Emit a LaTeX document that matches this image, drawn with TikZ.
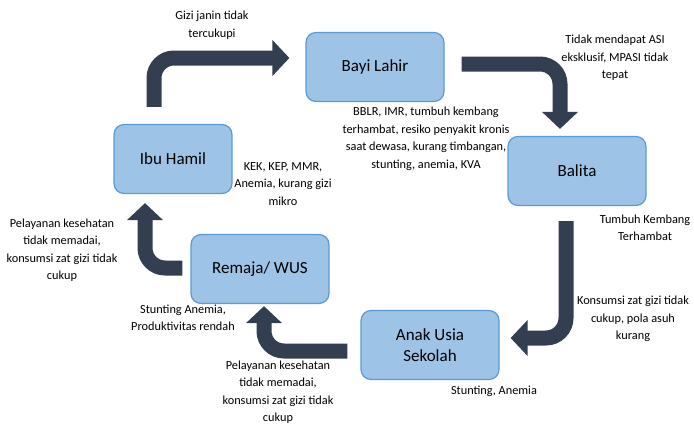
\documentclass[tikz,border=0pt]{standalone}
\usepackage{fontspec}
\setmainfont{Carlito}
\usetikzlibrary{arrows.meta}
\usetikzlibrary{positioning}
\definecolor{boxfill}{HTML}{9DC3E6}
\definecolor{boxline}{HTML}{5B9BD5}
\definecolor{panah}{HTML}{333F50}

\begin{document}
\begin{tikzpicture}[x=1pt,y=-1pt]
	\tikzset{vertex/.style = {shape=rectangle, rounded corners=10pt, draw=boxline, line width=1.2pt, fill=boxfill, minimum width=138pt, minimum height=69pt, align=center, font=\fontsize{17}{21}\selectfont}}
	\tikzset{txt/.style = {align=center, inner sep=0pt, font=\fontsize{12.3}{17.5}\selectfont}}
	\tikzset{panahbesar/.style = {draw=panah, line width=15pt, rounded corners=20pt, -{Triangle[width=35pt,length=17pt]}}}
	\useasboundingbox (0,0) rectangle (694,424);
	
	\node[vertex] (bayi) at (375,67) {Bayi Lahir};
	\node[vertex, minimum width=118pt] (ibu) at (173,159) {Ibu Hamil};
	\node[vertex] (balita) at (577,171) {Balita};
	\node[vertex] (remaja) at (260,269) {Remaja/ WUS};
	\node[vertex] (anak) at (430,345) {Anak Usia\\Sekolah};
	
	\draw[panahbesar] ([xshift=-19pt,yshift=17pt]ibu.north) |- ([xshift=-16pt,yshift=9pt]bayi.west);
	\draw[panahbesar] ([xshift=17pt,yshift=3pt]bayi.east) -| ([xshift=-17pt,yshift=7pt]balita.north);
	\draw[panahbesar] ([xshift=-11pt,yshift=-15pt]balita.south) |- ([xshift=11pt,yshift=7pt]anak.east);
	\draw[panahbesar] ([xshift=-13pt,yshift=-6pt]anak.west) -| ([xshift=4pt,yshift=-2pt]remaja.south);
	\draw[panahbesar] ([xshift=-8pt,yshift=1pt]remaja.west) -| ([xshift=-28pt,yshift=-9pt]ibu.south);
	
	\node[txt] (gizijanin) at (212,25) {Gizi janin tidak\\tercukupi};
	\node[txt] (asi) at (615,58) {Tidak mendapat ASI\\eksklusif, MPASI tidak\\tepat};
	\node[txt] (bblr) at (426,139) {BBLR, IMR, tumbuh kembang\\terhambat, resiko penyakit kronis\\saat dewasa, kurang timbangan,\\stunting, anemia, KVA};
	\node[txt] (kek) at (283,184) {KEK, KEP, MMR,\\Anemia, kurang gizi\\mikro};
	\node[txt] (tumbuh) at (645,228) {Tumbuh Kembang\\Terhambat};
	\node[txt] (konsumsi) at (633,319) {Konsumsi zat gizi tidak\\cukup, pola asuh\\kurang};
	\node[txt] (stunting) at (494,391) {Stunting, Anemia};
	\node[txt] (layananbawah) at (278,392) {Pelayanan kesehatan\\tidak memadai,\\konsumsi zat gizi tidak\\cukup};
	\node[txt] (produktif) at (183,318) {Stunting Anemia,\\Produktivitas rendah};
	\node[txt] (layanankiri) at (62,250) {Pelayanan kesehatan\\tidak memadai,\\konsumsi zat gizi tidak\\cukup};
	
\end{tikzpicture}
\end{document}
